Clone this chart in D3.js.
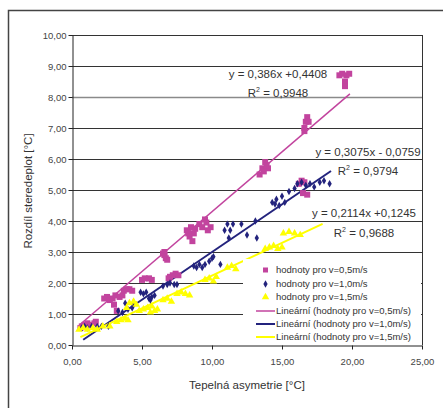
<!DOCTYPE html>
<html>
<head>
<meta charset="utf-8">
<script src="https://cdn.jsdelivr.net/npm/d3@7"></script>
<style>
  body { margin: 0; background: #fff; }
  svg { display: block; font-family: "Liberation Sans", Arial, sans-serif; }
</style>
</head>
<body>
<script>
var w = 443;
var h = 408;

// v = 0,5 m/s (squares)
var x05 = [0.6, 0.7, 0.9, 1.1, 1.3, 1.6, 1.7,
    2.3, 2.5, 2.7, 2.9, 3.1, 3.2, 3.0, 3.4,
    3.7, 3.9, 4.1, 4.3, 3.6,
    5.0, 5.2, 5.5, 5.7,
    6.5, 6.6, 6.7, 6.8, 6.6,
    7.0, 7.2, 7.4, 7.6, 6.9,
    8.2, 8.4, 8.5, 8.7, 8.6, 8.8, 8.3,
    9.1, 9.3, 9.5, 9.7, 9.9, 9.6,
    13.4, 13.6, 13.8, 14.0, 13.9, 13.7,
    16.2, 16.4, 16.6, 16.5, 16.8,
    16.6, 16.7, 16.8, 16.9, 16.6,
    19.1, 19.3, 19.6, 19.8, 19.5, 19.5];
var y05 = [0.55, 0.6, 0.65, 0.7, 0.65, 0.7, 0.75,
    1.5, 1.55, 1.45, 1.5, 1.6, 1.1, 1.3, 1.55,
    1.75, 1.8, 1.8, 1.75, 1.6,
    2.1, 2.15, 2.15, 2.1,
    2.95, 3.0, 2.8, 2.75, 2.9,
    2.2, 2.25, 2.3, 2.25, 2.15,
    3.7, 3.5, 3.8, 3.6, 3.35, 3.75, 3.6,
    3.9, 3.8, 4.05, 3.7, 3.8, 3.95,
    5.5, 5.7, 5.9, 5.7, 5.8, 5.6,
    5.2, 5.3, 5.25, 4.9, 4.85,
    7.0, 7.2, 7.35, 7.2, 6.9,
    8.7, 8.75, 8.7, 8.75, 8.5, 8.35];

// v = 1,0 m/s (diamonds)
var x10 = [0.7, 0.9, 1.1, 1.4, 1.8, 2.1, 2.6,
    3.3, 3.6, 3.8, 4.0, 4.3, 4.4,
    4.9, 5.1, 5.3, 5.5, 5.7, 5.9, 5.6,
    6.5, 6.8, 7.0, 7.3, 7.5,
    8.7, 8.9, 9.1, 9.3, 9.5, 9.8, 10.0, 10.1, 10.6,
    10.9, 11.1, 11.3, 11.5, 11.2, 12.1, 12.5, 13.1, 13.2,
    14.3, 14.6, 14.8, 15.0, 15.2, 15.5, 14.5,
    15.9, 16.1, 16.4, 16.7, 17.0, 17.3,
    17.7, 18.0, 18.4];
var y10 = [0.55, 0.6, 0.55, 0.6, 0.6, 0.6, 0.6,
    1.1, 1.05, 1.35, 1.15, 1.2, 1.3,
    1.7, 1.65, 1.7, 1.5, 1.55, 1.6, 1.45,
    1.9, 1.95, 2.0, 1.95, 1.95,
    2.55, 2.5, 2.6, 2.5, 2.6, 2.7, 2.8, 2.85, 2.6,
    3.7, 3.9, 3.7, 3.9, 3.45, 3.9, 3.55, 4.0, 3.45,
    4.6, 4.7, 4.5, 4.8, 4.6, 4.95, 4.55,
    5.05, 5.2, 5.25, 5.15, 5.2, 5.1,
    5.25, 5.3, 5.2];

// v = 1,5 m/s (triangles)
var x15 = [0.5, 0.8, 1.1, 1.5, 1.8, 2.2, 2.7,
    3.2, 3.5, 3.8, 4.0,
    3.9, 4.1, 4.4, 4.6,
    4.8, 5.1, 5.4, 5.6, 5.9, 6.1, 5.7,
    6.5, 6.8, 7.1,
    7.5, 7.8, 8.1, 8.4,
    9.5, 9.8, 10.1, 10.3,
    11.1, 11.4, 11.7,
    13.8, 14.1, 14.4, 14.7, 15.0,
    15.1, 15.5, 15.9, 16.3];
var y15 = [0.5, 0.55, 0.5, 0.55, 0.5, 0.6, 0.6,
    0.75, 0.8, 0.85, 0.8,
    1.2, 1.35, 1.4, 1.3,
    1.1, 1.15, 1.2, 1.05, 1.1, 1.15, 1.25,
    1.45, 1.5, 1.4,
    1.65, 1.7, 1.65, 1.6,
    2.1, 2.15, 2.05, 2.2,
    2.5, 2.55, 2.45,
    3.1, 3.15, 3.2, 3.1, 3.15,
    3.6, 3.65, 3.6, 3.55];

// trend lines: slope, intercept, x range
var trendSlope = [0.386, 0.3075, 0.2114];
var trendIntercept = [0.4408, -0.0759, 0.1245];
var trendFrom = [0.57, 0.8, 0.6];
var trendTo = [19.85, 18.5, 17.9];
var trendEq = ["y = 0,386x +0,4408", "y = 0,3075x - 0,0759", "y = 0,2114x +0,1245"];
var trendR2 = ["0,9948", "0,9794", "0,9688"];

var seriesNames = ["hodnoty pro v=0,5m/s", "hodnoty pro v=1,0m/s", "hodnoty pro v=1,5m/s"];
var colors = ["#c2449e", "#23237d", "#ffff00"];

var xTicks = [0, 5, 10, 15, 20, 25];
var yTicks = [0, 1, 2, 3, 4, 5, 6, 7, 8, 9, 10];

var cz = d3.formatLocale({decimal: ",", thousands: " ", grouping: [3], currency: ["", ""]});
var fmt = cz.format(".2f");

var xScale = d3.scaleLinear().domain([0, 25]).range([72, 422]);
var yScale = d3.scaleLinear().domain([0, 10]).range([345, 35]);

var svg = d3.select("body").append("svg")
    .attr("width", w)
    .attr("height", h);

// outer frame (top and left edges visible)
svg.append("path")
    .attr("d", "M8.5,408 L8.5,10.5 L443,10.5")
    .attr("fill", "none")
    .attr("stroke", "#444")
    .attr("stroke-width", 1.5);

// gridlines
svg.append("g").selectAll("line")
    .data(yTicks.slice(1))
    .enter().append("line")
    .attr("x1", xScale(0)).attr("x2", xScale(25))
    .attr("y1", d => Math.round(yScale(d)) + 0.5)
    .attr("y2", d => Math.round(yScale(d)) + 0.5)
    .attr("stroke", d => d === 8 ? "#8a8a8a" : "#333")
    .attr("stroke-width", d => d === 8 ? 1.6 : 1);

// right border
svg.append("line")
    .attr("x1", xScale(25) + 0.5).attr("x2", xScale(25) + 0.5)
    .attr("y1", yScale(10)).attr("y2", yScale(0))
    .attr("stroke", "#333");

// axes
var yAxis = svg.append("g")
    .attr("transform", "translate(" + (xScale(0) + 0.5) + ",0)")
    .call(d3.axisLeft(yScale).tickValues(yTicks).tickFormat(fmt).tickSize(4).tickSizeOuter(0));
var xAxis = svg.append("g")
    .attr("transform", "translate(0," + (Math.round(yScale(0)) + 0.5) + ")")
    .call(d3.axisBottom(xScale).tickValues(xTicks).tickFormat(fmt).tickSize(4).tickSizeOuter(0));

[xAxis, yAxis].forEach(a => {
    a.select(".domain").attr("stroke", "#222");
    a.selectAll(".tick line").attr("stroke", "#222");
    a.selectAll(".tick text")
        .attr("fill", "#444")
        .style("font-size", "9.5px")
        .style("font-family", "'Liberation Sans', Arial, sans-serif");
});
yAxis.selectAll(".tick text").attr("x", -6).attr("dy", "0.35em");
xAxis.selectAll(".tick text").attr("y", 13);

// axis titles
svg.append("text")
    .attr("x", 247).attr("y", 389)
    .attr("text-anchor", "middle")
    .attr("fill", "#333")
    .style("font-size", "11.5px")
    .text("Tepelná asymetrie [°C]");
svg.append("text")
    .attr("transform", "translate(32,191) rotate(-90)")
    .attr("text-anchor", "middle")
    .attr("fill", "#333")
    .style("font-size", "11.5px")
    .text("Rozdíl steredeplot [°C]");

// trend lines
trendSlope.forEach((m, i) => {
    svg.append("line")
        .attr("x1", xScale(trendFrom[i]))
        .attr("y1", yScale(m * trendFrom[i] + trendIntercept[i]))
        .attr("x2", xScale(trendTo[i]))
        .attr("y2", yScale(m * trendTo[i] + trendIntercept[i]))
        .attr("stroke", colors[i])
        .attr("stroke-width", i === 0 ? 1.5 : 2);
});

// points
var sq = 6;
svg.append("g").selectAll("rect")
    .data(d3.zip(x05, y05))
    .enter().append("rect")
    .attr("x", d => xScale(d[0]) - sq / 2)
    .attr("y", d => yScale(d[1]) - sq / 2)
    .attr("width", sq).attr("height", sq)
    .attr("fill", colors[0]);

var diamond = d3.symbol().type(d3.symbolDiamond).size(16);
svg.append("g").selectAll("path")
    .data(d3.zip(x10, y10))
    .enter().append("path")
    .attr("d", diamond)
    .attr("transform", d => "translate(" + xScale(d[0]) + "," + yScale(d[1]) + ")")
    .attr("fill", colors[1]);

var tri = d3.symbol().type(d3.symbolTriangle).size(24);
svg.append("g").selectAll("path")
    .data(d3.zip(x15, y15))
    .enter().append("path")
    .attr("d", tri)
    .attr("transform", d => "translate(" + xScale(d[0]) + "," + yScale(d[1]) + ")")
    .attr("fill", colors[2]);

// equation labels
var eqPos = [[278, 78, 97], [368, 156, 175], [364, 217, 237]];
trendEq.forEach((t, i) => {
    svg.append("text")
        .attr("x", eqPos[i][0]).attr("y", eqPos[i][1])
        .attr("text-anchor", "middle")
        .attr("fill", "#333")
        .style("font-size", "11.5px")
        .text(t);
    var r = svg.append("text")
        .attr("x", eqPos[i][0]).attr("y", eqPos[i][2])
        .attr("text-anchor", "middle")
        .attr("fill", "#333")
        .style("font-size", "11.5px");
    r.append("tspan").text("R");
    r.append("tspan").attr("dy", -5).style("font-size", "7px").text("2");
    r.append("tspan").attr("dy", 5).text(" = " + trendR2[i]);
});

// legend
var lg = svg.append("g");
lg.append("rect")
    .attr("x", 243).attr("y", 259)
    .attr("width", 178).attr("height", 85)
    .attr("fill", "#fff");
var rowY = [270, 284, 297, 311, 324, 337];
var legendLabels = seriesNames.concat(seriesNames.map(s => "Lineární (" + s + ")"));
legendLabels.forEach((t, i) => {
    var y = rowY[i];
    if (i === 0) {
        lg.append("rect").attr("x", 263).attr("y", y - 2.5).attr("width", 5).attr("height", 5).attr("fill", colors[0]);
    } else if (i === 1) {
        lg.append("path").attr("d", diamond).attr("transform", "translate(265.5," + y + ")").attr("fill", colors[1]);
    } else if (i === 2) {
        lg.append("path").attr("d", tri).attr("transform", "translate(265.5," + y + ")").attr("fill", colors[2]);
    } else {
        lg.append("line")
            .attr("x1", 256).attr("x2", 275)
            .attr("y1", y).attr("y2", y)
            .attr("stroke", colors[i - 3])
            .attr("stroke-width", i === 3 ? 1.5 : 2);
    }
    lg.append("text")
        .attr("x", 276).attr("y", y)
        .attr("dy", "0.35em")
        .attr("fill", "#333")
        .style("font-size", "9.5px")
        .text(t);
});
</script>
</body>
</html>
